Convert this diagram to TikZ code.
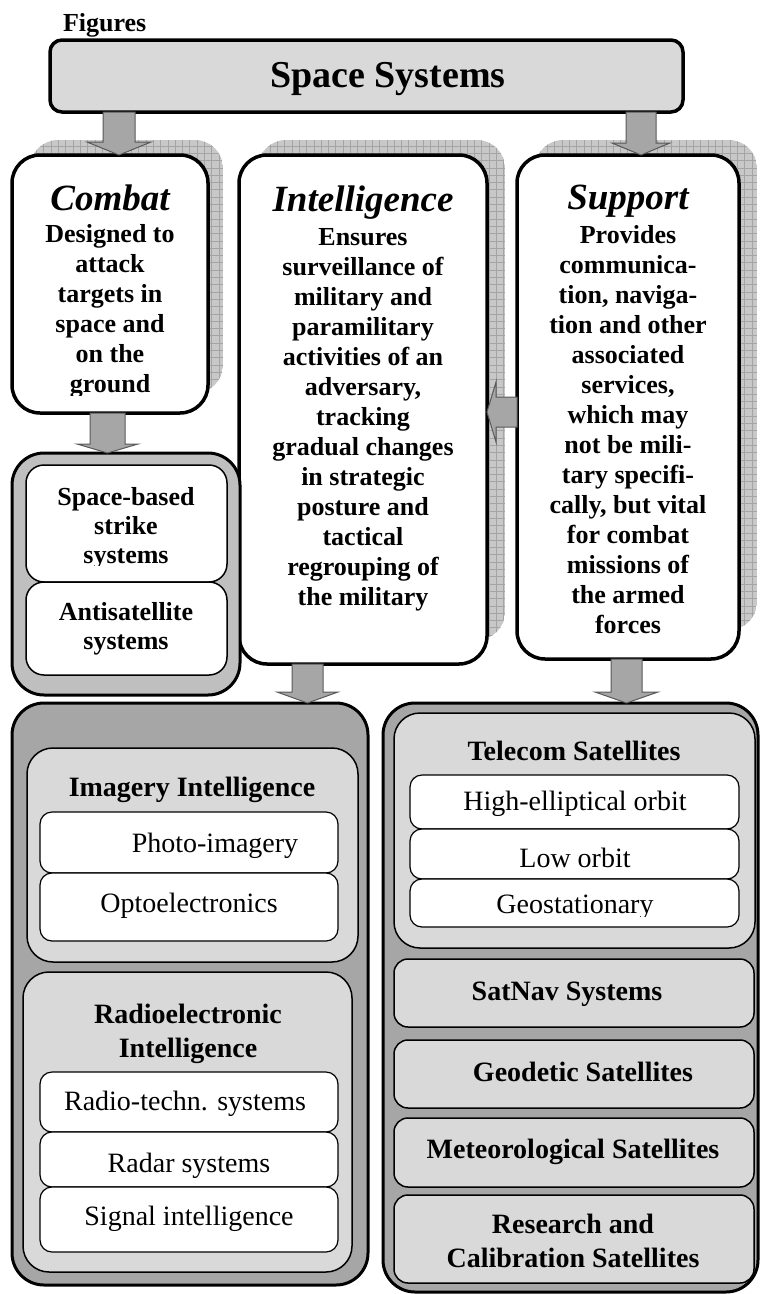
\documentclass[tikz,border=0pt]{standalone}
\usepackage{fontspec}
\setmainfont{Liberation Serif}
\usetikzlibrary{calc,fit}
\definecolor{lightg}{HTML}{D9D9D9}
\definecolor{midg}{HTML}{BFBFBF}
\definecolor{darkg}{HTML}{A6A6A6}
\definecolor{shadowg}{HTML}{C8C8C8}
\definecolor{gridg}{HTML}{A4A4A4}
\definecolor{arrowedge}{HTML}{595959}
\tikzset{
  boxbase/.style={inner sep=0pt, outer sep=0pt},
  topbox/.style={boxbase, draw=black, line width=3.5pt, fill=lightg, rounded corners=12pt},
  mainbox/.style={boxbase, draw=black, line width=3.5pt, fill=white, rounded corners=28pt},
  groupbox/.style={boxbase, draw=black, line width=3pt, rounded corners=32pt},
  lightbox/.style={boxbase, draw=black, line width=1.5pt, fill=lightg, rounded corners=26pt},
  flatbox/.style={boxbase, draw=black, line width=1.5pt, fill=lightg, rounded corners=14pt},
  itembox/.style={boxbase, draw=black, line width=1.2pt, fill=white, rounded corners=12pt},
  wbox/.style={boxbase, draw=black, line width=1.5pt, fill=white, rounded corners=18pt},
  blockarrow/.style={fill=darkg, draw=arrowedge, line width=1pt, line join=miter},
  txt/.style={inner sep=0pt, outer sep=0pt, anchor=base},
  headt/.style={txt, font=\fontsize{37}{40}\selectfont\bfseries\itshape},
  bodyt/.style={txt, font=\fontsize{26}{30}\selectfont\bfseries},
  smallb/.style={txt, font=\fontsize{26}{29}\selectfont\bfseries},
  subh/.style={txt, font=\fontsize{28}{34}\selectfont\bfseries},
  itemt/.style={txt, font=\fontsize{28}{34}\selectfont},
}
\newcommand{\shadowrect}[4]{%
  \begin{scope}
    \clip[rounded corners=28pt] (#1,#2) rectangle (#3,#4);
    \fill[shadowg] (#1,#2) rectangle (#3,#4);
    \draw[gridg, line width=0.7pt, step=7.3pt] (#1,#2) grid (#3,#4);
  \end{scope}}
% #1 x, #2 source anchor, #3 target anchor, #4 shaft half, #5 head half, #6 head length
\newcommand{\blkdown}[6]{%
  \coordinate (tmpx) at (#1,0);
  \draw[blockarrow] ($(tmpx|-#2)+(-#4,0)$) -- ($(tmpx|-#3)+(-#4,-#6)$) -- ($(tmpx|-#3)+(-#5,-#6)$)
    -- (tmpx|-#3) -- ($(tmpx|-#3)+(#5,-#6)$) -- ($(tmpx|-#3)+(#4,-#6)$) -- ($(tmpx|-#2)+(#4,0)$) -- cycle;}
\begin{document}
\begin{tikzpicture}[x=1pt,y=-1pt]
\useasboundingbox (0,0) rectangle (760,1294);

% title
\node[txt, anchor=base west, font=\fontsize{26}{30}\selectfont\bfseries] (fig) at (63,31) {Figures};

% shadows
\shadowrect{30}{140}{223}{393}
\shadowrect{258}{140}{505}{640}
\shadowrect{535}{140}{757}{630}

% boxes (empty nodes for connectors)
\node[topbox, fit={(50,40) (683,112)}] (ss) {};
\node[mainbox, fit={(12,155) (208,413)}] (combat) {};
\node[mainbox, fit={(239,155) (487,664)}] (intel) {};
\node[mainbox, fit={(517,155) (739,659)}] (sup) {};

% combat group
\node[groupbox, fill=midg, fit={(12,453) (240,695)}] (cgroup) {};
\node[wbox, fit={(26,465) (227,582)}] (strike) {};
\node[wbox, fit={(26,582) (227,675)}] (asat) {};

% intelligence group
\node[groupbox, fill=darkg, fit={(12,703) (368,1285)}] (igroup) {};
\node[lightbox, fit={(27,748) (358,962)}] (imint) {};
\node[itembox, fit={(40,812) (338,873)}] (photo) {};
\node[itembox, fit={(40,873) (338,941)}] (opto) {};
\node[lightbox, fit={(23,972) (352,1272)}] (radint) {};
\node[itembox, fit={(40,1072) (338,1132)}] (rtech) {};
\node[itembox, fit={(40,1132) (338,1187)}] (radar) {};
\node[itembox, fit={(40,1187) (338,1252)}] (sigint) {};

% support group
\node[groupbox, fill=darkg, fit={(383,703) (758,1292)}] (sgroup) {};
\node[lightbox, fit={(394,713) (755,948)}] (tel) {};
\node[itembox, fit={(410,775) (739,829)}] (heo) {};
\node[itembox, fit={(410,829) (739,879)}] (leo) {};
\node[itembox, fit={(410,879) (739,927)}] (geo) {};
\node[flatbox, fit={(394,959) (754,1027)}] (satnav) {};
\node[flatbox, fit={(394,1040) (754,1108)}] (geod) {};
\node[flatbox, fit={(394,1118) (754,1187)}] (meteo) {};
\node[flatbox, fit={(394,1195) (754,1283)}] (research) {};

% block arrows
\blkdown{119}{ss.south}{combat.north}{16}{32}{13}
\blkdown{641}{ss.south}{sup.north}{15}{29}{12}
\blkdown{107.5}{combat.south}{cgroup.north}{17.5}{30.5}{9}
\blkdown{307.5}{intel.south}{igroup.north}{15.5}{30.5}{11}
\blkdown{626.5}{sup.south}{sgroup.north}{15.5}{31.5}{11}
\coordinate (lh) at (0,412);
\draw[blockarrow] ($(lh-|sup.west)+(0,-15)$) -- ($(lh-|intel.east)+(9,-15)$) -- ($(lh-|intel.east)+(9,-30)$)
  -- (lh-|intel.east) -- ($(lh-|intel.east)+(9,30)$) -- ($(lh-|intel.east)+(9,15)$) -- ($(lh-|sup.west)+(0,15)$) -- cycle;

% texts
\node[txt, font=\fontsize{38}{42}\selectfont\bfseries] (sstxt) at (388,87) {Space Systems};

\node[headt] (combath) at (110,210) {Combat};
\begin{scope}
\clip (12,150) rectangle (208,395);
\node[bodyt] (combatb) at (110,242) {\begin{tabular}[t]{@{}c@{}}Designed to\\attack\\targets in\\space and\\on the\\ground\end{tabular}};
\end{scope}

\node[headt] (intelh) at (363,211) {Intelligence};
\node[bodyt] (intelb) at (363,245) {\begin{tabular}[t]{@{}c@{}}Ensures\\surveillance of\\military and\\paramilitary\\activities of an\\adversary,\\tracking\\gradual changes\\in strategic\\posture and\\tactical\\regrouping of\\the military\end{tabular}};

\node[headt] (suph) at (628,209) {Support};
\node[bodyt] (supb) at (628,243) {\begin{tabular}[t]{@{}c@{}}Provides\\communica-\\tion, naviga-\\tion and other\\associated\\services,\\which may\\not be mili-\\tary specifi-\\cally, but vital\\for combat\\missions of\\the armed\\forces\end{tabular}};

\begin{scope}
\clip (26,465) rectangle (227,565);
\node[smallb] (striket) at (126,505) {\begin{tabular}[t]{@{}c@{}}Space-based\\strike\\systems\end{tabular}};
\end{scope}
\node[smallb] (asatt) at (126,620) {\begin{tabular}[t]{@{}c@{}}Antisatellite\\systems\end{tabular}};

\node[subh] (iminth) at (192,796) {Imagery Intelligence};
\node[itemt] (photot) at (215,852) {Photo-imagery};
\node[itemt] (optot) at (189,912) {Optoelectronics};
\node[subh] (radinth) at (188,1023) {\begin{tabular}[t]{@{}c@{}}Radioelectronic\\Intelligence\end{tabular}};
\node[itemt] (rtecht) at (185,1110) {Radio-techn. systems};
\node[itemt] (radart) at (189,1172) {Radar systems};
\node[itemt] (siginth) at (189,1225) {Signal intelligence};

\node[subh] (telh) at (574,760) {Telecom Satellites};
\node[itemt] (heot) at (575,810) {High-elliptical orbit};
\node[itemt] (leot) at (575,867) {Low orbit};
\begin{scope}
\clip (410,879) rectangle (739,916);
\node[itemt] (geot) at (575,913) {Geostationary};
\end{scope}
\node[subh] (satnavt) at (567,1000) {SatNav Systems};
\node[subh] (geodt) at (583,1081) {Geodetic Satellites};
\node[subh] (meteot) at (573,1158) {Meteorological Satellites};
\node[subh] (researcht) at (573,1233) {\begin{tabular}[t]{@{}c@{}}Research and\\Calibration Satellites\end{tabular}};
\end{tikzpicture}
\end{document}
